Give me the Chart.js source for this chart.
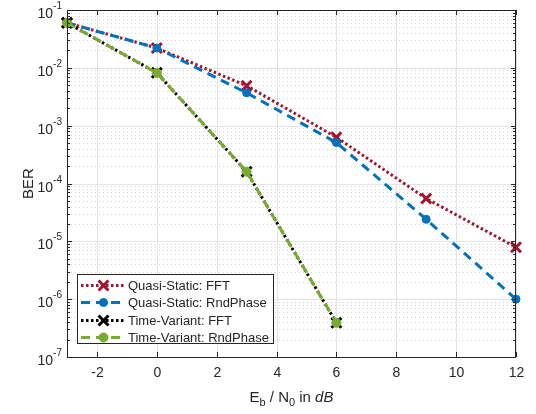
<!DOCTYPE html>
<html>
<head>
<meta charset="utf-8">
<script src="https://cdn.jsdelivr.net/npm/chart.js@4.4.1/dist/chart.umd.min.js"></script>
<style>
  html, body { margin: 0; padding: 0; background: #fff; }
  #ber { display: block; }
</style>
</head>
<body>
<canvas id="ber" width="536" height="414"></canvas>
<script>
// Eb/N0 values (dB)
const snrQuasi = [-3, 0, 3, 6, 9, 12];
const snrTime = [-3, 0, 3, 6];

// BER values
const berQuasiFFT = [0.06, 0.022, 4.9e-3, 6.3e-4, 5.5e-5, 7.9e-6];
const berQuasiRnd = [0.06, 0.022, 3.7e-3, 5.1e-4, 2.4e-5, 1.0e-6];
const berTimeFFT = [0.06, 8.2e-3, 1.6e-4, 3.9e-7];
const berTimeRnd = [0.06, 8.2e-3, 1.6e-4, 3.9e-7];

const xTicks = [-2, 0, 2, 4, 6, 8, 10, 12];
const yDecades = [-7, -6, -5, -4, -3, -2, -1];

const seriesNames = ['Quasi-Static: FFT', 'Quasi-Static: RndPhase', 'Time-Variant: FFT', 'Time-Variant: RndPhase'];

const FONT = '"Liberation Sans", Arial, Helvetica, sans-serif';
const AXIS = '#262626';

function pts(xs, ys) {
    return xs.map((x, i) => ({ x: x, y: ys[i] }));
}

// Grid, axes box, tick labels, titles and legend (MATLAB look)
const matlabAxes = {
    id: 'matlabAxes',
    beforeDatasetsDraw(chart) {
        const ctx = chart.ctx;
        const a = chart.chartArea;
        const xs = chart.scales.x, ys = chart.scales.y;
        ctx.save();
        // minor y grid (dotted)
        ctx.strokeStyle = '#d4d4d4';
        ctx.lineWidth = 1;
        ctx.setLineDash([1, 3]);
        yDecades.forEach(d => {
            if (d === -1) return;
            for (let m = 2; m <= 9; m++) {
                const py = Math.round(ys.getPixelForValue(m * Math.pow(10, d))) + 0.5;
                ctx.beginPath(); ctx.moveTo(a.left, py); ctx.lineTo(a.right, py); ctx.stroke();
            }
        });
        // major grid
        ctx.setLineDash([]);
        ctx.strokeStyle = '#e4e4e4';
        xTicks.forEach(v => {
            const px = Math.round(xs.getPixelForValue(v)) + 0.5;
            ctx.beginPath(); ctx.moveTo(px, a.top); ctx.lineTo(px, a.bottom); ctx.stroke();
        });
        yDecades.forEach(d => {
            const py = Math.round(ys.getPixelForValue(Math.pow(10, d))) + 0.5;
            ctx.beginPath(); ctx.moveTo(a.left, py); ctx.lineTo(a.right, py); ctx.stroke();
        });
        ctx.restore();
    },
    afterDatasetsDraw(chart) {
        const ctx = chart.ctx;
        const a = chart.chartArea;
        const xs = chart.scales.x, ys = chart.scales.y;
        ctx.save();
        ctx.strokeStyle = AXIS;
        ctx.lineWidth = 1;
        // box
        ctx.strokeRect(a.left + 0.5, a.top + 0.5, a.right - a.left - 1, a.bottom - a.top);
        // x ticks (inward) and labels
        ctx.fillStyle = AXIS;
        ctx.font = '14px ' + FONT;
        ctx.textAlign = 'center';
        ctx.textBaseline = 'top';
        xTicks.forEach(v => {
            const px = Math.round(xs.getPixelForValue(v)) + 0.5;
            ctx.beginPath();
            ctx.moveTo(px, a.bottom); ctx.lineTo(px, a.bottom - 5);
            ctx.moveTo(px, a.top); ctx.lineTo(px, a.top + 5);
            ctx.stroke();
            ctx.fillText(String(v), px, a.bottom + 9);
        });
        // y ticks
        yDecades.forEach(d => {
            const py = Math.round(ys.getPixelForValue(Math.pow(10, d))) + 0.5;
            ctx.beginPath();
            ctx.moveTo(a.left, py); ctx.lineTo(a.left + 5, py);
            ctx.moveTo(a.right, py); ctx.lineTo(a.right - 5, py);
            ctx.stroke();
            if (d !== -1) {
                for (let m = 2; m <= 9; m++) {
                    const my = Math.round(ys.getPixelForValue(m * Math.pow(10, d))) + 0.5;
                    ctx.beginPath();
                    ctx.moveTo(a.left, my); ctx.lineTo(a.left + 3, my);
                    ctx.moveTo(a.right, my); ctx.lineTo(a.right - 3, my);
                    ctx.stroke();
                }
            }
            // label 10^d
            const right = a.left - 5;
            ctx.textAlign = 'right';
            ctx.textBaseline = 'alphabetic';
            ctx.font = '10px ' + FONT;
            const sup = String(d);
            const supW = ctx.measureText(sup).width;
            ctx.fillText(sup, right, py - 2);
            ctx.font = '14px ' + FONT;
            ctx.fillText('10', right - supW, py + 7);
        });
        // y title
        ctx.save();
        ctx.translate(33, (a.top + a.bottom) / 2);
        ctx.rotate(-Math.PI / 2);
        ctx.textAlign = 'center';
        ctx.textBaseline = 'alphabetic';
        ctx.font = '15px ' + FONT;
        ctx.fillText('BER', 0, 0);
        ctx.restore();
        // x title: E_b / N_0 in dB
        const parts = [
            { t: 'E', f: '15px ' + FONT, dy: 0 },
            { t: 'b', f: '11px ' + FONT, dy: 4 },
            { t: ' / N', f: '15px ' + FONT, dy: 0 },
            { t: '0', f: '11px ' + FONT, dy: 4 },
            { t: ' in ', f: '15px ' + FONT, dy: 0 },
            { t: 'dB', f: 'italic 15px ' + FONT, dy: 0 }
        ];
        let total = 0;
        parts.forEach(p => { ctx.font = p.f; p.w = ctx.measureText(p.t).width; total += p.w; });
        let tx = (a.left + a.right) / 2 - total / 2;
        const ty = a.bottom + 45;
        ctx.textAlign = 'left';
        parts.forEach(p => { ctx.font = p.f; ctx.fillText(p.t, tx, ty + p.dy); tx += p.w; });

        // legend
        const lx = 77, ly = 274, lw = 196, lh = 69;
        ctx.fillStyle = '#fff';
        ctx.fillRect(lx, ly, lw, lh);
        ctx.strokeStyle = AXIS;
        ctx.strokeRect(lx + 0.5, ly + 0.5, lw, lh);
        ctx.font = '13px ' + FONT;
        ctx.textBaseline = 'middle';
        const rows = [285, 302, 320, 337];
        chart.data.datasets.forEach((ds, i) => {
            const ry = rows[i] + 0.5;
            ctx.save();
            ctx.strokeStyle = ds.borderColor;
            ctx.lineWidth = ds.borderWidth;
            ctx.setLineDash(ds.borderDash);
            ctx.beginPath(); ctx.moveTo(81, ry); ctx.lineTo(126, ry); ctx.stroke();
            ctx.setLineDash([]);
            ctx.fillStyle = ds.pointBackgroundColor;
            ctx.strokeStyle = ds.pointBorderColor;
            ctx.lineWidth = ds.pointBorderWidth;
            Chart.helpers.drawPoint(ctx, {
                pointStyle: ds.pointStyle, radius: ds.pointRadius, borderWidth: ds.pointBorderWidth, rotation: 0
            }, 103.5, ry);
            ctx.restore();
            ctx.fillStyle = AXIS;
            ctx.fillText(seriesNames[i], 128, rows[i] + 1);
        });
        ctx.restore();
    }
};

const red = '#A2142F', blue = '#0072BD', black = '#000000', green = '#77AC30';

new Chart(document.getElementById('ber'), {
    type: 'line',
    data: {
        datasets: [
            {
                label: seriesNames[0], data: pts(snrQuasi, berQuasiFFT), order: 4,
                borderColor: red, borderWidth: 3, borderDash: [2.5, 2.5],
                pointStyle: 'crossRot', pointRadius: 7, pointBorderWidth: 3,
                pointBorderColor: red, pointBackgroundColor: red
            },
            {
                label: seriesNames[1], data: pts(snrQuasi, berQuasiRnd), order: 3,
                borderColor: blue, borderWidth: 3, borderDash: [9, 6],
                pointStyle: 'circle', pointRadius: 4, pointBorderWidth: 1,
                pointBorderColor: blue, pointBackgroundColor: blue
            },
            {
                label: seriesNames[2], data: pts(snrTime, berTimeFFT), order: 2,
                borderColor: black, borderWidth: 3, borderDash: [2.5, 2.5],
                pointStyle: 'crossRot', pointRadius: 7, pointBorderWidth: 3,
                pointBorderColor: black, pointBackgroundColor: black
            },
            {
                label: seriesNames[3], data: pts(snrTime, berTimeRnd), order: 1,
                borderColor: green, borderWidth: 3, borderDash: [9, 6],
                pointStyle: 'circle', pointRadius: 4.5, pointBorderWidth: 1,
                pointBorderColor: green, pointBackgroundColor: green
            }
        ]
    },
    options: {
        responsive: false,
        animation: false,
        devicePixelRatio: 1,
        clip: false,
        layout: { padding: { left: 67, top: 9, right: 20, bottom: 57 } },
        plugins: { legend: { display: false }, tooltip: { enabled: false } },
        elements: { line: { tension: 0, fill: false } },
        scales: {
            x: { type: 'linear', min: -3, max: 12, display: false },
            y: { type: 'logarithmic', min: 1e-7, max: 1e-1, display: false }
        }
    },
    plugins: [matlabAxes]
});
</script>
</body>
</html>
